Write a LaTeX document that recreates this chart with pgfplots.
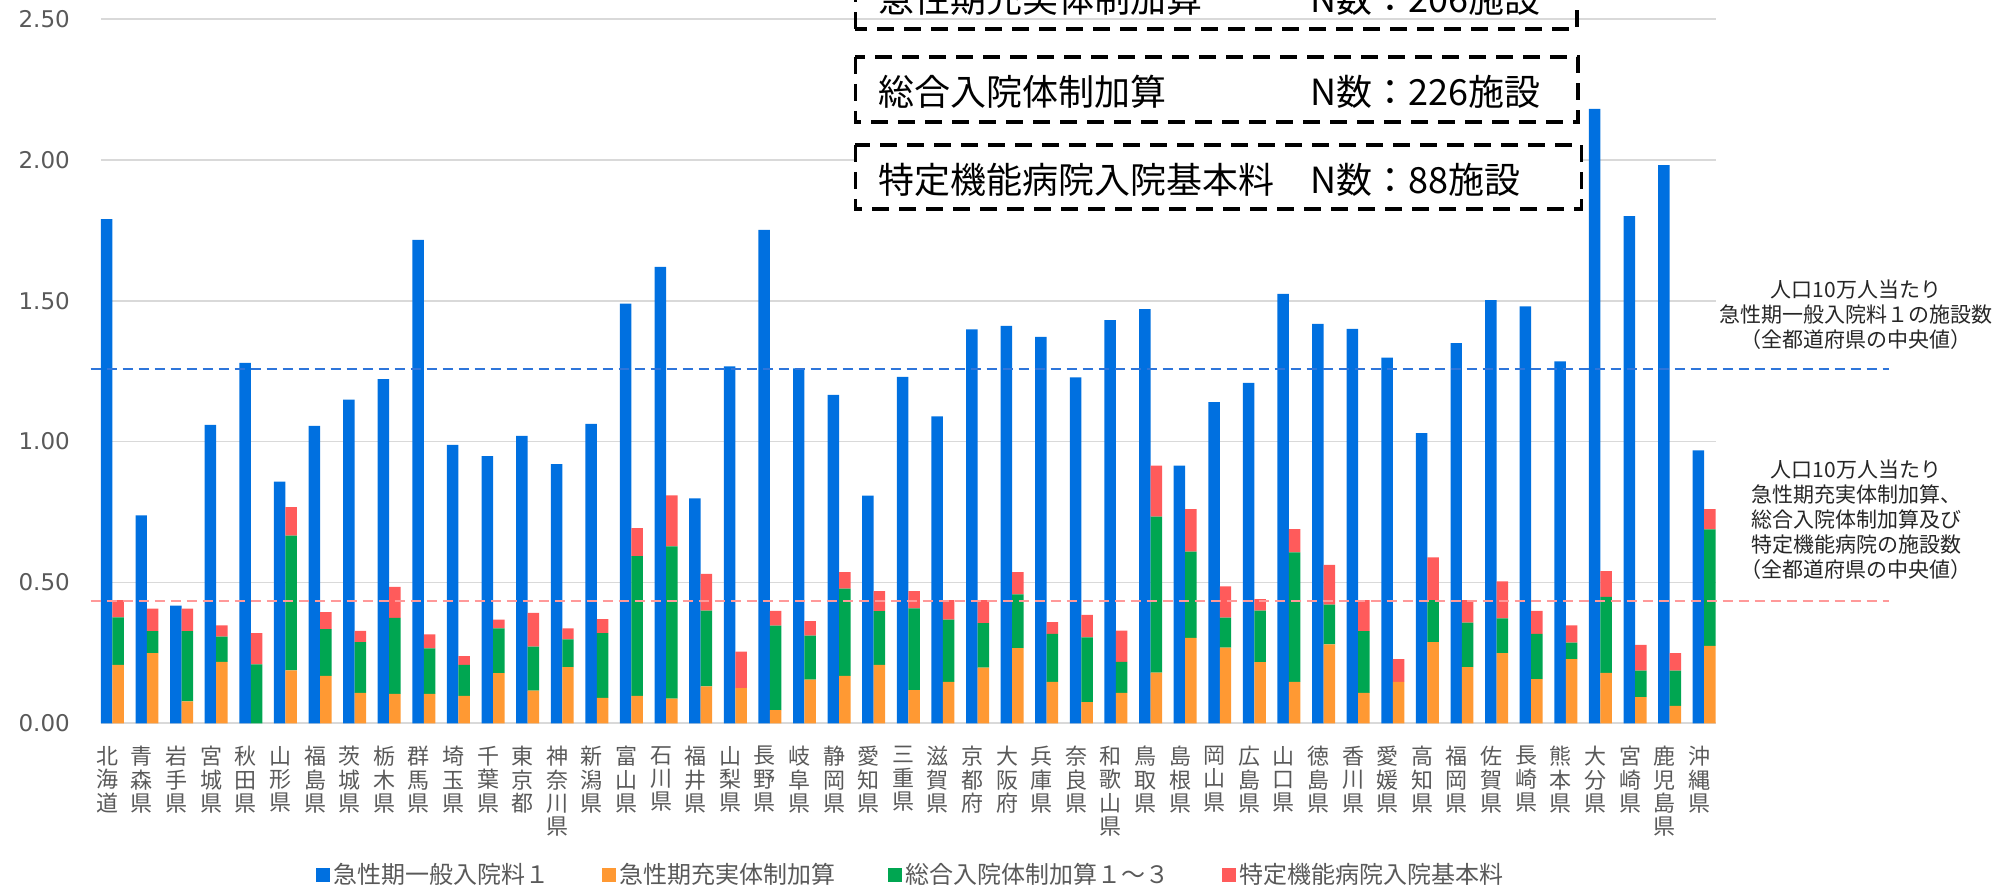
\documentclass[border=0pt]{standalone}
\usepackage{pgfplots}
\usepackage{pgfplotstable}
\pgfplotsset{compat=1.18}
\usepackage{fontspec}
\setmainfont{Noto Sans CJK JP}
\newfontfamily\tickfont{DejaVu Sans}

\definecolor{cblue}{RGB}{0,112,224}
\definecolor{corange}{RGB}{255,153,51}
\definecolor{cgreen}{RGB}{0,166,81}
\definecolor{cred}{RGB}{255,91,91}
\definecolor{gridgray}{RGB}{217,217,217}
\definecolor{txtgray}{RGB}{89,89,89}
\definecolor{medblue}{RGB}{46,117,218}
\definecolor{medpink}{RGB}{255,153,153}

% per 100k population; stacked parts are increments
\pgfplotstableread{
i blue orange green red
0 1.790 0.207 0.169 0.061
1 0.738 0.249 0.078 0.080
2 0.418 0.078 0.249 0.080
3 1.059 0.218 0.090 0.040
4 1.279 0.000 0.209 0.111
5 0.858 0.188 0.478 0.101
6 1.056 0.168 0.166 0.061
7 1.149 0.108 0.180 0.040
8 1.222 0.104 0.270 0.110
9 1.716 0.104 0.162 0.050
10 0.988 0.097 0.110 0.031
11 0.948 0.178 0.159 0.031
12 1.020 0.116 0.156 0.120
13 0.920 0.199 0.099 0.039
14 1.063 0.090 0.230 0.050
15 1.490 0.097 0.496 0.100
16 1.620 0.088 0.540 0.181
17 0.798 0.131 0.269 0.130
18 1.267 0.125 0.000 0.129
19 1.751 0.047 0.300 0.052
20 1.260 0.155 0.156 0.052
21 1.166 0.168 0.310 0.059
22 0.808 0.207 0.191 0.071
23 1.230 0.118 0.290 0.061
24 1.089 0.147 0.221 0.069
25 1.398 0.198 0.158 0.081
26 1.411 0.267 0.191 0.079
27 1.372 0.147 0.170 0.042
28 1.228 0.075 0.230 0.080
29 1.431 0.108 0.110 0.111
30 1.470 0.180 0.554 0.181
31 0.915 0.303 0.306 0.151
32 1.140 0.269 0.106 0.111
33 1.208 0.217 0.183 0.041
34 1.524 0.147 0.460 0.082
35 1.418 0.280 0.141 0.141
36 1.400 0.108 0.219 0.110
37 1.298 0.147 0.000 0.081
38 1.030 0.288 0.149 0.152
39 1.349 0.199 0.158 0.080
40 1.502 0.249 0.123 0.132
41 1.480 0.157 0.160 0.082
42 1.285 0.228 0.058 0.062
43 2.181 0.179 0.270 0.091
44 1.800 0.093 0.094 0.091
45 1.981 0.062 0.125 0.062
46 0.969 0.275 0.413 0.072
}\data

\pgfplotsset{
  base/.style={
    scale only axis, width=807.4pt, height=352.15pt,
    at={(50.45pt,81.85pt)}, anchor=south west,
    xmin=-0.332, xmax=46.332, ymin=0, ymax=2.5,
    bar width=0.332, clip=false}
}
\tikzset{boxline/.style={black, line width=1.65pt, dash pattern=on 8.5pt off 5pt}}

\begin{document}
\begin{tikzpicture}
  % blue bars, grid and ticks
  \begin{axis}[base, ybar,
    axis line style={draw=none}, major tick length=0pt,
    ymajorgrids, major grid style={gridgray, line width=0.9pt},
    ytick={0,0.5,1,1.5,2,2.5},
    /pgf/number format/assume math mode=true,
    yticklabel style={font=\tickfont\fontsize{11.5}{12}\selectfont, text=txtgray,
      xshift=-12pt, /pgf/number format/.cd, fixed, fixed zerofill, precision=2},
    xtick={0,...,46},
    xticklabels={{北\\海\\道},{青\\森\\県},{岩\\手\\県},{宮\\城\\県},{秋\\田\\県},{山\\形\\県},{福\\島\\県},{茨\\城\\県},{栃\\木\\県},{群\\馬\\県},{埼\\玉\\県},{千\\葉\\県},{東\\京\\都},{神\\奈\\川\\県},{新\\潟\\県},{富\\山\\県},{石\\川\\県},{福\\井\\県},{山\\梨\\県},{長\\野\\県},{岐\\阜\\県},{静\\岡\\県},{愛\\知\\県},{三\\重\\県},{滋\\賀\\県},{京\\都\\府},{大\\阪\\府},{兵\\庫\\県},{奈\\良\\県},{和\\歌\\山\\県},{鳥\\取\\県},{島\\根\\県},{岡\\山\\県},{広\\島\\県},{山\\口\\県},{徳\\島\\県},{香\\川\\県},{愛\\媛\\県},{高\\知\\県},{福\\岡\\県},{佐\\賀\\県},{長\\崎\\県},{熊\\本\\県},{大\\分\\県},{宮\\崎\\県},{鹿\\児\\島\\県},{沖\\縄\\県}},
    xticklabel style={font=\fontsize{11}{11.65}\selectfont, text=txtgray,
      align=center, anchor=north, yshift=-8pt, xshift=-2.5pt},
  ]
    \addplot[fill=cblue, draw=none, bar shift=-0.166] table[x=i,y=blue]{\data};
  \end{axis}

  % stacked bars and legend
  \begin{axis}[base, ybar stacked, hide axis,
    legend columns=4,
    legend image code/.code={\fill[#1] (0pt,-3.5pt) rectangle (7pt,3.5pt);},
    legend style={at={(0.502,-0.2154)}, anchor=center, draw=none, fill=none,
      font=\fontsize{12}{14}\selectfont, text=txtgray,
      /tikz/every even column/.append style={column sep=24pt}},
  ]
    \addlegendimage{fill=cblue, draw=none}
    \addplot[fill=corange, draw=none, bar shift=0.166] table[x=i,y=orange]{\data};
    \addplot[fill=cgreen, draw=none, bar shift=0.166] table[x=i,y=green]{\data};
    \addplot[fill=cred, draw=none, bar shift=0.166] table[x=i,y=red]{\data};
    \legend{急性期一般入院料１,急性期充実体制加算,総合入院体制加算１～３,特定機能病院入院基本料}
  \end{axis}

  % median lines
  \begin{axis}[base, hide axis]
    \addplot[medblue, line width=0.75pt, dash pattern=on 5pt off 3pt] coordinates {(-0.63,1.258) (51.35,1.258)};
    \addplot[medpink, line width=0.75pt, dash pattern=on 5pt off 3pt] coordinates {(-0.63,0.434) (51.35,0.434)};
  \end{axis}

  \begin{scope}[x=0.5pt, y=0.5pt]
    \begin{scope}
      \clip (0,0) rectangle (2001,887);
      \draw[boxline] (855.4,858) rectangle (1577,925);
      \node[anchor=west, inner sep=0, font=\fontsize{18}{20}\selectfont] at (877.7,888) {急性期充実体制加算};
      \node[anchor=west, inner sep=0, font=\fontsize{18}{20}\selectfont] at (1309.8,888) {N数：206施設};
    \end{scope}
    \draw[boxline, fill=white] (855.4,830) rectangle (1578,765);
    \node[anchor=west, inner sep=0, font=\fontsize{18}{20}\selectfont] at (877.7,795) {総合入院体制加算};
    \node[anchor=west, inner sep=0, font=\fontsize{18}{20}\selectfont] at (1309.8,795) {N数：226施設};
    \draw[boxline, fill=white] (855.4,742) rectangle (1581.6,678);
    \node[anchor=west, inner sep=0, font=\fontsize{18}{20}\selectfont] at (877.7,707) {特定機能病院入院基本料};
    \node[anchor=west, inner sep=0, font=\fontsize{18}{20}\selectfont] at (1309.8,707) {N数：88施設};

    \node[align=center, text=black!85, font=\fontsize{10.5}{12.5}\selectfont] at (1856,572)
      {人口10万人当たり\\急性期一般入院料１の施設数\\（全都道府県の中央値）};
    \node[align=center, text=black!85, font=\fontsize{10.5}{12.5}\selectfont] at (1856,367.5)
      {人口10万人当たり\\急性期充実体制加算、\\総合入院体制加算及び\\特定機能病院の施設数\\（全都道府県の中央値）};

    \pgfresetboundingbox
    \path[use as bounding box] (0,0) rectangle (2001,887);
  \end{scope}
\end{tikzpicture}
\end{document}
